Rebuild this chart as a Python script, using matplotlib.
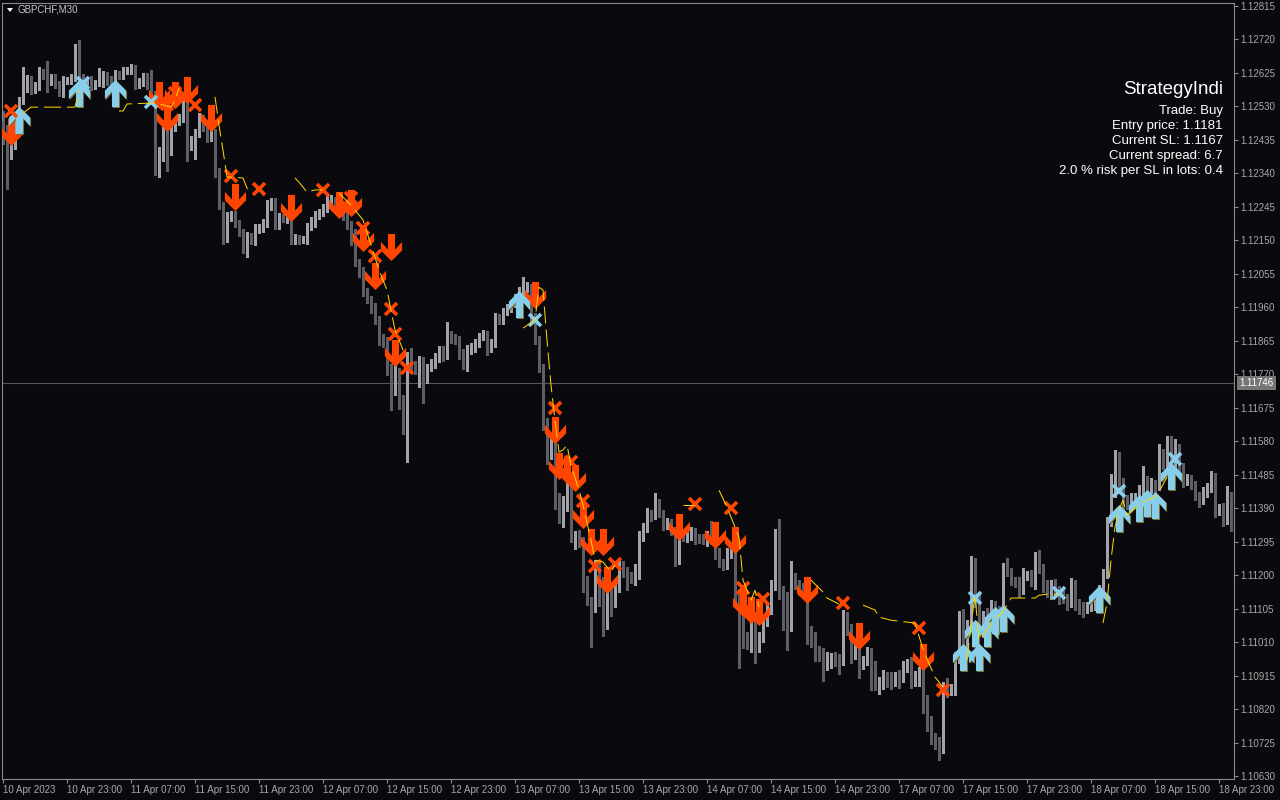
import numpy as np
import matplotlib
matplotlib.use("Agg")
import matplotlib.pyplot as plt
from matplotlib.path import Path
from matplotlib.patches import Polygon
import matplotlib.transforms as mtransforms

plt.rcParams['font.family'] = ['Liberation Sans', 'DejaVu Sans']

# ---------------- data (prices in points: price = 1.0 + pts/1e5) ----------------
BASE = 1.0
first_open_pts = 12490
close_pts = [
    12463, 12412, 12435, 12497, 12548, 12591, 12605, 12582, 12588, 12628, 12619, 12605, 12611, 12594, 12571, 12605,
    12605, 12611, 12696, 12611, 12594, 12605, 12591, 12596, 12596, 12619, 12605, 12599, 12622, 12619, 12631, 12633,
    12639, 12594, 12599, 12616, 12594, 12562, 12350, 12401, 12472, 12406, 12472, 12486, 12500, 12548, 12421, 12435,
    12455, 12497, 12469, 12443, 12455, 12344, 12250, 12159, 12216, 12222, 12199, 12174, 12123, 12162, 12151, 12182,
    12185, 12199, 12250, 12259, 12193, 12216, 12213, 12213, 12151, 12157, 12151, 12151, 12188, 12202, 12222, 12230,
    12242, 12256, 12264, 12250, 12236, 12222, 12193, 12151, 12088, 12060, 12003, 11981, 11958, 11924, 11873, 11861,
    11788, 11725, 11776, 11697, 11646, 11819, 11796, 11788, 11805, 11759, 11790, 11802, 11816, 11839, 11824, 11878,
    11873, 11867, 11833, 11810, 11839, 11847, 11859, 11876, 11881, 11844, 11861, 11930, 11924, 11949, 11958, 11972,
    11986, 12003, 12015, 12017, 11930, 11867, 11790, 11632, 11549, 11583, 11413, 11362, 11413, 11470, 11314, 11314,
    11299, 11186, 11129, 11121, 11228, 11186, 11087, 11158, 11129, 11166, 11228, 11214, 11194, 11192, 11220, 11308,
    11336, 11376, 11368, 11404, 11376, 11342, 11348, 11328, 11277, 11314, 11308, 11311, 11322, 11308, 11305, 11299,
    11314, 11299, 11265, 11237, 11228, 11263, 11277, 11149, 11087, 11024, 11016, 11058, 11007, 11030, 11072, 11109,
    11172, 11305, 11158, 11143, 11072, 11194, 11177, 11163, 11149, 11044, 11030, 10987, 10982, 10950, 10967, 10970,
    10967, 10959, 11081, 11050, 10987, 11001, 10953, 10959, 10982, 10945, 10894, 10902, 10916, 10913, 10911, 10916,
    10911, 10945, 10953, 10911, 10916, 10930, 10845, 10789, 10740, 10732, 10709, 10888, 10874, 10879, 10967, 11078,
    11016, 11058, 11214, 11129, 11044, 11087, 11072, 11115, 11101, 11087, 11220, 11209, 11186, 11180, 11158, 11200,
    11200, 11180, 11257, 11220, 11172, 11163, 11177, 11158, 11143, 11135, 11121, 11177, 11121, 11115, 11112, 11112,
    11126, 11135, 11158, 11206, 11351, 11441, 11498, 11456, 11413, 11404, 11413, 11421, 11441, 11470, 11447, 11461,
    11456, 11527, 11512, 11521, 11498, 11527, 11504, 11470, 11475, 11456, 11427, 11413, 11436, 11450, 11475, 11390,
    11393, 11370, 11427, 11351,
]
up_wick_pts = [
    28, 15, 20, 12, 10, 50, 15, 12, 10, 14, 8, 40, 10, 12, 8, 10,
    8, 10, 12, 23, 10, 8, 12, 8, 43, 12, 8, 10, 12, 8, 10, 8,
    10, 8, 12, 8, 10, 40, 12, 15, 10, 18, 12, 10, 8, 20, 14, 10,
    12, 15, 10, 12, 8, 10, 12, 8, 15, 10, 12, 10, 8, 12, 10, 15,
    10, 12, 14, 12, 10, 12, 8, 10, 14, 10, 8, 12, 10, 14, 12, 10,
    12, 20, 15, 10, 12, 10, 14, 12, 30, 10, 15, 12, 10, 14, 10, 12,
    15, 10, 20, 12, 15, 15, 25, 12, 18, 15, 10, 12, 15, 12, 10, 40,
    15, 10, 12, 10, 14, 12, 10, 12, 15, 12, 10, 14, 12, 10, 12, 10,
    12, 15, 30, 14, 10, 15, 12, 10, 15, 12, 10, 20, 12, 15, 10, 12,
    14, 10, 12, 10, 15, 12, 10, 15, 12, 10, 20, 12, 10, 14, 12, 18,
    12, 15, 10, 30, 12, 10, 14, 12, 10, 15, 12, 10, 14, 12, 10, 12,
    12, 40, 10, 12, 10, 14, 15, 30, 12, 10, 14, 15, 12, 10, 15, 12,
    14, 25, 55, 12, 10, 45, 12, 10, 14, 20, 12, 10, 12, 10, 15, 10,
    12, 10, 20, 14, 12, 10, 30, 12, 14, 10, 12, 10, 15, 10, 12, 10,
    14, 12, 10, 14, 12, 10, 12, 15, 10, 12, 10, 10, 20, 12, 15, 20,
    25, 15, 40, 35, 15, 12, 20, 14, 12, 10, 15, 30, 12, 10, 14, 20,
    12, 15, 10, 15, 12, 14, 10, 12, 10, 14, 12, 15, 10, 12, 10, 12,
    14, 12, 15, 12, 15, 45, 57, 50, 20, 14, 20, 12, 15, 40, 12, 15,
    10, 45, 30, 75, 75, 60, 45, 15, 12, 10, 12, 10, 14, 12, 20, 15,
    10, 12, 25, 10,
]
dn_wick_pts = [
    40, 115, 30, 25, 15, 12, 20, 18, 15, 10, 12, 35, 14, 12, 10, 15,
    10, 12, 8, 15, 12, 10, 14, 12, 8, 10, 14, 12, 8, 10, 12, 8,
    10, 15, 12, 10, 14, 20, 15, 20, 25, 60, 15, 12, 10, 14, 45, 15,
    55, 12, 10, 15, 12, 14, 12, 18, 15, 12, 10, 12, 10, 20, 12, 14,
    12, 10, 12, 14, 10, 12, 10, 14, 12, 10, 12, 8, 12, 10, 14, 12,
    10, 12, 14, 10, 12, 15, 12, 14, 10, 15, 12, 10, 14, 12, 20, 15,
    20, 55, 15, 25, 45, 125, 20, 18, 55, 70, 15, 12, 14, 12, 15, 12,
    14, 12, 20, 25, 30, 12, 14, 12, 10, 20, 12, 14, 12, 10, 12, 10,
    12, 10, 14, 12, 15, 12, 15, 20, 35, 20, 25, 15, 25, 30, 20, 40,
    20, 35, 15, 125, 25, 75, 60, 40, 45, 20, 15, 20, 35, 15, 20, 30,
    12, 15, 14, 10, 12, 14, 12, 15, 50, 45, 12, 15, 10, 20, 14, 12,
    15, 12, 20, 15, 14, 12, 15, 40, 150, 30, 25, 35, 55, 25, 20, 15,
    20, 15, 25, 100, 85, 30, 15, 20, 14, 40, 35, 30, 25, 50, 20, 30,
    25, 40, 15, 20, 35, 25, 45, 20, 15, 70, 20, 30, 25, 30, 35, 25,
    30, 15, 20, 30, 25, 30, 35, 30, 20, 25, 35, 15, 20, 15, 20, 15,
    20, 25, 15, 20, 12, 20, 15, 14, 12, 15, 20, 12, 15, 14, 20, 12,
    15, 12, 20, 15, 20, 25, 30, 20, 25, 15, 20, 12, 20, 25, 30, 20,
    15, 25, 20, 12, 15, 12, 20, 15, 25, 15, 20, 14, 15, 20, 12, 15,
    20, 14, 12, 15, 20, 14, 15, 20, 14, 12, 15, 20, 12, 14, 15, 25,
    20, 30, 25, 25,
]

# signal objects: (bar index, price points)
sell_arrows = [(2, 12457), (39, 12562), (41, 12497), (43, 12562), (46, 12577), (52, 12497),
               (58, 12273), (72, 12242), (84, 12250), (87, 12256), (90, 12157), (93, 12049),
               (97, 12131), (98, 11830), (133, 11995), (138, 11612), (139, 11509), (141, 11498),
               (143, 11475), (145, 11370), (147, 11294), (150, 11294), (151, 11186), (169, 11336),
               (178, 11314), (183, 11299), (185, 11121), (187, 11101), (189, 11095), (201, 11158),
               (214, 11027), (230, 10967)]
buy_arrows = [(4, 12491), (19, 12568), (28, 12568), (129, 11969), (240, 10967), (244, 10967),
              (243, 11036), (246, 11036), (248, 11072), (250, 11078), (274, 11132), (279, 11362),
              (284, 11390), (286, 11404), (288, 11399), (292, 11481)]
sell_exits = [(2, 12517), (41, 12537), (43, 12568), (48, 12534), (57, 12333), (64, 12296),
              (80, 12293), (87, 12270), (90, 12185), (93, 12105), (97, 11955), (98, 11884),
              (101, 11788), (138, 11674), (140, 11521), (142, 11521), (145, 11410), (148, 11226),
              (153, 11231), (173, 11402), (182, 11390), (185, 11163), (190, 11132), (210, 11121),
              (229, 11050), (235, 10874)]
buy_exits = [(20, 12596), (37, 12542), (133, 11924), (243, 11135), (264, 11149), (279, 11439),
             (293, 11529)]
stop_segments = [
    [(5, 12511), (7, 12528), (18, 12528), (19, 12577)],
    [(29, 12517), (30, 12517), (31, 12537), (38, 12540), (42, 12528), (43, 12548), (44, 12582)],
    [(53, 12557), (54, 12477), (55, 12406), (56, 12330), (60, 12327), (61, 12298), (62, 12298)],
    [(73, 12327), (74, 12315), (76, 12287), (78, 12293), (80, 12293)],
    [(84, 12284), (87, 12250), (90, 12208), (92, 12137), (94, 12066), (96, 12009),
     (97, 11952), (98, 11896), (100, 11839)],
    [(130, 11901), (133, 11924), (134, 12017), (135, 12009), (136, 11867), (137, 11739),
     (138, 11640), (139, 11549), (140, 11555), (141, 11569), (142, 11512), (144, 11441),
     (145, 11399), (147, 11299), (148, 11243), (150, 11237), (152, 11209), (153, 11229)],
    [(170, 11399), (173, 11399)],
    [(179, 11441), (181, 11393), (184, 11308), (185, 11186), (187, 11129), (188, 11157), (189, 11109)],
    [(202, 11186), (205, 11152), (206, 11135), (209, 11118)],
    [(215, 11115), (218, 11101), (219, 11081), (222, 11072), (228, 11064), (230, 10990),
     (232, 10936), (233, 10911), (235, 10882)],
    [(241, 10959), (242, 11058), (243, 11143), (244, 11016), (246, 11044), (248, 11078),
     (250, 11095), (251, 11115), (252, 11135), (258, 11135), (259, 11143), (261, 11146), (264, 11146)],
    [(275, 11064), (276, 11121), (277, 11243), (278, 11336), (279, 11385), (280, 11413),
     (281, 11370), (283, 11390), (286, 11413), (288, 11421), (289, 11436), (291, 11478)],
]

xtick_bars = [0, 16, 32, 48, 64, 80, 96, 112, 128, 144, 160, 176, 192, 208, 224, 240, 256, 272, 288, 304]
xtick_labels = ["10 Apr 2023", "10 Apr 23:00", "11 Apr 07:00", "11 Apr 15:00", "11 Apr 23:00",
                "12 Apr 07:00", "12 Apr 15:00", "12 Apr 23:00", "13 Apr 07:00", "13 Apr 15:00",
                "13 Apr 23:00", "14 Apr 07:00", "14 Apr 15:00", "14 Apr 23:00", "17 Apr 07:00",
                "17 Apr 15:00", "17 Apr 23:00", "18 Apr 07:00", "18 Apr 15:00", "18 Apr 23:00"]
ytick_values = [1.12815, 1.12720, 1.12625, 1.12530, 1.12435, 1.12340, 1.12245, 1.12150,
                1.12055, 1.11960, 1.11865, 1.11770, 1.11675, 1.11580, 1.11485, 1.11390,
                1.11295, 1.11200, 1.11105, 1.11010, 1.10915, 1.10820, 1.10725, 1.10630]
current_price = 1.11746
symbol_label = "GBPCHF,M30"
info_title = "StrategyIndi"
info_lines = ["Trade: Buy", "Entry price: 1.1181", "Current SL: 1.1167",
              "Current spread: 6.7", "2.0 % risk per SL in lots: 0.4"]

# ---------------- styles ----------------
BG = '#0a0a0e'
FRAME = '#8a8a8a'
LBL = '#a8a8a8'
BULL = '#a2a2aa'
BEAR = '#5e5e66'
ORANGE = '#ff4500'
BLUE = '#87ceeb'
GOLD = '#ffd700'

n = min(len(close_pts), len(up_wick_pts), len(dn_wick_pts))
c = BASE + np.array(close_pts[:n]) / 1e5
o = np.concatenate([[BASE + first_open_pts / 1e5], c[:-1]])
hi = np.maximum(o, c) + np.array(up_wick_pts[:n]) / 1e5
lo = np.minimum(o, c) - np.array(dn_wick_pts[:n]) / 1e5
x = np.arange(n)
bull = c >= o
cols = np.where(bull, BULL, BEAR)

fig = plt.figure(figsize=(12.8, 8), dpi=100, facecolor=BG)
ax = fig.add_axes([2 / 1280, 21 / 800, 1232 / 1280, 776 / 800], facecolor=BG)
ax.set_xlim(-0.25, 307.75)
ax.set_ylim(1.106215, 1.128235)

# current price line
ax.axhline(current_price, color='#55555f', lw=0.8, zorder=1)

# candles
ax.vlines(x, lo, hi, colors=cols, lw=1.0, zorder=2, antialiased=False)
minh = 0.0000284
body_bot = np.minimum(o, c)
body_h = np.maximum(np.abs(c - o), minh)
ax.bar(x, body_h, bottom=body_bot, width=0.75, color=cols, linewidth=0, zorder=3, antialiased=False)

# arrow marker shapes
down_verts = [(0, -11.5), (9.0, -2.5), (9.0, 4.8), (3.0, -1.8), (3.0, 11.5), (-3.0, 11.5),
              (-3.0, -1.8), (-9.0, 4.8), (-9.0, -2.5), (0, -11.5)]
down_path = Path(down_verts, closed=True)
up_path = Path([(vx, -vy) for vx, vy in down_verts], closed=True)
ams = 19.5

def pts_to_xy(lst):
    bx = np.array([p[0] for p in lst], dtype=float)
    py = BASE + np.array([p[1] for p in lst]) / 1e5
    return bx, py

sx, sy = pts_to_xy(sell_arrows)
ax.plot(sx, sy, ls='none', marker=down_path, ms=ams, mfc=ORANGE, mec='none', zorder=5)

bx_, by_ = pts_to_xy(buy_arrows)
shadow = mtransforms.offset_copy(ax.transData, fig=fig, x=1, y=-1, units='dots')
ax.plot(bx_, by_, ls='none', marker=up_path, ms=ams, mfc='#7a6a2a', mec='none', zorder=5,
        transform=shadow)
ax.plot(bx_, by_, ls='none', marker=up_path, ms=ams, mfc=BLUE, mec='none', zorder=5)

ex, ey = pts_to_xy(sell_exits)
ax.plot(ex, ey, ls='none', marker='x', ms=9, mew=2.6, mec=ORANGE, zorder=6)
bx2, by2 = pts_to_xy(buy_exits)
ax.plot(bx2, by2, ls='none', marker='x', ms=9, mew=2.6, mec=BLUE, zorder=6)

# trailing stop (dashed gold)
for seg in stop_segments:
    gx, gy = pts_to_xy(seg)
    ax.plot(gx, gy, color=GOLD, lw=0.72, ls=(0, (17, 6)), zorder=7)

# axes styling
for s in ax.spines.values():
    s.set_color(FRAME)
    s.set_linewidth(0.8)
ax.yaxis.tick_right()
ax.set_yticks(ytick_values)
ax.set_yticklabels([f"{v:.5f}" for v in ytick_values])
ax.set_xticks(xtick_bars)
ax.set_xticklabels(xtick_labels)
for lab in ax.get_xticklabels():
    lab.set_ha('left')
ax.tick_params(axis='y', direction='out', length=3, width=0.8, color=FRAME, labelcolor=LBL,
               labelsize=7, pad=1.5)
ax.tick_params(axis='x', direction='out', length=3, width=0.8, color=FRAME, labelcolor=LBL,
               labelsize=7, pad=1.5)

# current price label
fig.text(1239 / 1280, 1 - 383 / 800, f"{current_price:.5f}", fontsize=7, color='white',
         ha='left', va='center',
         bbox=dict(boxstyle='square,pad=0.25', fc='#767676', ec='none'))

# symbol label
tri = Polygon([(7 / 1280, 1 - 8 / 800), (13 / 1280, 1 - 8 / 800), (10 / 1280, 1 - 12 / 800)],
              closed=True, transform=fig.transFigure, fc='white', ec='none')
fig.patches.append(tri)
fig.text(18 / 1280, 1 - 10 / 800, symbol_label, fontsize=7, color='#c4c4c4', ha='left', va='center')

# info panel
fig.text(1223 / 1280, 1 - 89 / 800, info_title, fontsize=13.5, color='white', ha='right', va='center')
for k, line in enumerate(info_lines):
    fig.text(1223 / 1280, 1 - (111 + 15 * k) / 800, line, fontsize=9.5, color='white',
             ha='right', va='center')

fig.savefig('out.png', dpi=100, facecolor=BG)
